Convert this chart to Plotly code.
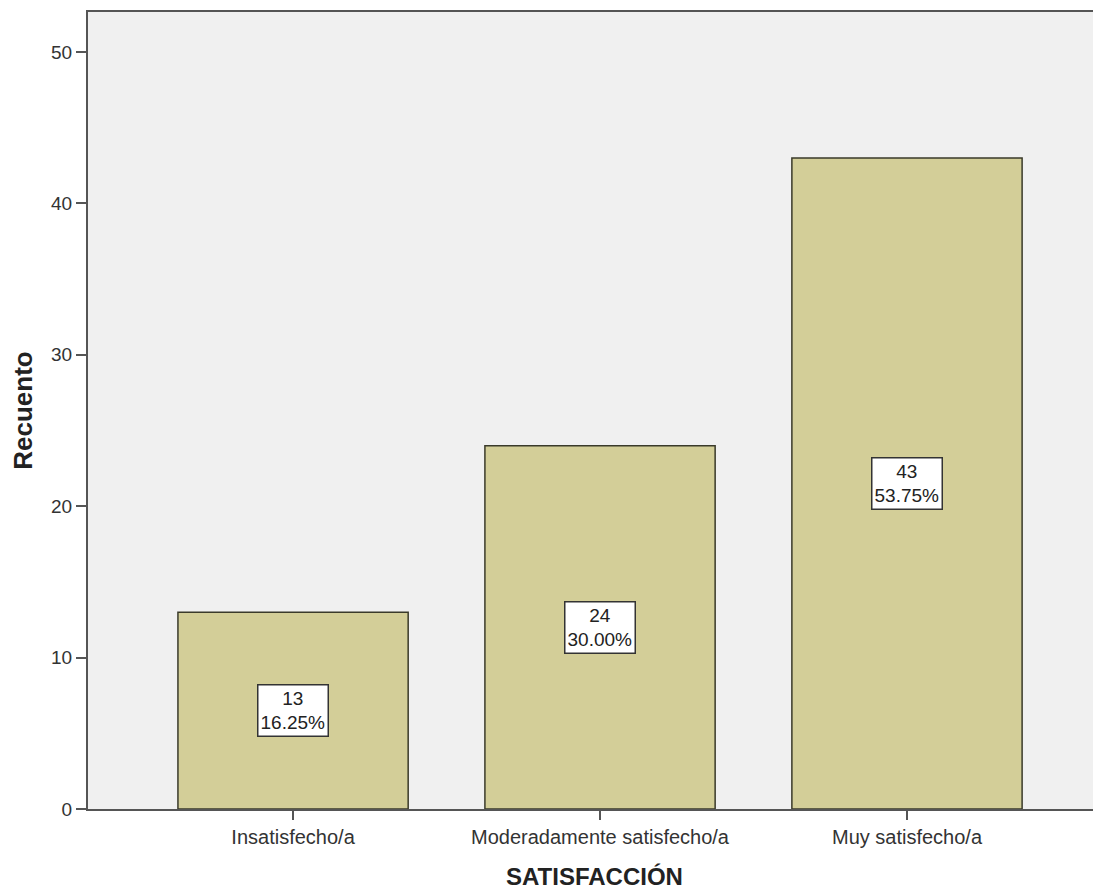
import plotly.graph_objects as go

categories = ["Insatisfecho/a", "Moderadamente satisfecho/a", "Muy satisfecho/a"]
counts = [13, 24, 43]
percents = ["16.25%", "30.00%", "53.75%"]
y_ticks = [0, 10, 20, 30, 40, 50]

FONT = "Arial, Liberation Sans, sans-serif"

fig = go.Figure()
fig.add_trace(go.Bar(
    x=list(range(len(categories))),
    y=counts,
    width=0.75,
    marker=dict(color="#D3CE98", line=dict(color="#3a3a2a", width=1.5)),
    hoverinfo="skip",
))

for i, (c, p) in enumerate(zip(counts, percents)):
    fig.add_annotation(
        x=i, y=c / 2, text=f"{c}<br>{p}", showarrow=False,
        font=dict(family=FONT, size=19, color="#222"),
        bgcolor="white", bordercolor="#333", borderwidth=1.5, borderpad=2,
        align="center",
    )

fig.update_layout(
    width=1093, height=882,
    margin=dict(l=80, r=0, t=4, b=81),
    paper_bgcolor="white",
    plot_bgcolor="#F0F0F0",
    showlegend=False,
    font=dict(family=FONT, color="#333"),
    xaxis=dict(
        range=[-0.668, 2.632],
        tickmode="array", tickvals=list(range(len(categories))), ticktext=categories,
        ticks="outside", ticklen=9, tickwidth=2, tickcolor="#555",
        showline=True, linecolor="#555", linewidth=2, mirror=True,
        showgrid=False, zeroline=False,
        tickfont=dict(size=20, color="#333"),
        title=dict(text="<b>SATISFACCIÓN</b>", font=dict(size=24, color="#222"), standoff=22),
    ),
    yaxis=dict(
        range=[0, 52.64],
        tickmode="array", tickvals=y_ticks,
        ticks="outside", ticklen=10, tickwidth=2, tickcolor="#555",
        showline=True, linecolor="#555", linewidth=2, mirror=False,
        showgrid=False, zeroline=False,
        tickfont=dict(size=19, color="#333"),
        title=dict(text="<b>Recuento</b>", font=dict(size=26, color="#222"), standoff=12),
    ),
)

fig.write_html("out.html")
